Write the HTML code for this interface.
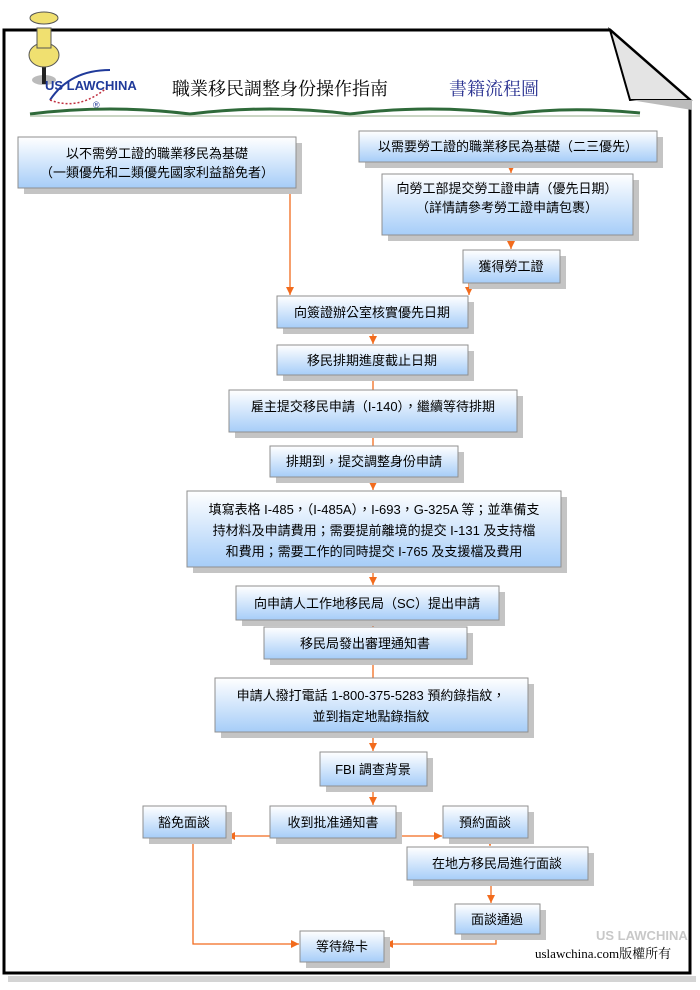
<!DOCTYPE html>
<html><head><meta charset="utf-8"><style>
html,body{margin:0;padding:0;background:#fff}
svg{display:block}
text{font-family:"Liberation Sans","Noto Sans CJK TC",sans-serif;font-size:13px;fill:#000}
</style></head><body>
<svg width="700" height="990" viewBox="0 0 700 990" xmlns="http://www.w3.org/2000/svg">
<defs>
<linearGradient id="g" x1="0" y1="0" x2="0" y2="1"><stop offset="0" stop-color="#ffffff"/><stop offset="1" stop-color="#a6cdf8"/></linearGradient>
<marker id="a" markerWidth="8" markerHeight="8" refX="8" refY="4" orient="auto" markerUnits="userSpaceOnUse" viewBox="0 0 8 8"><path d="M0,0 L8,4 L0,8 Z" fill="#f26b1d"/></marker>
</defs>
<!-- frame -->
<rect x="8" y="976" width="688" height="6" fill="#d4d4d4"/>
<path d="M4,30 L610,30 L690,100 L690,973 L4,973 Z" fill="#fff" stroke="#000" stroke-width="3"/>
<path d="M610,30 L630,100 L690,100 Z" fill="#e4e4e4" stroke="#000" stroke-width="2"/>
<path d="M630,100 L692,100 L692,110 Z" fill="#bbb"/>
<!-- pin -->
<ellipse cx="44" cy="80" rx="12" ry="5" fill="#bbb"/>
<rect x="42" y="62" width="4" height="22" fill="#222"/>
<ellipse cx="44" cy="55" rx="15" ry="12" fill="#f0e070" stroke="#555"/>
<rect x="37" y="28" width="14" height="20" fill="#f0e070" stroke="#555"/>
<ellipse cx="44" cy="18" rx="14" ry="6" fill="#f0e070" stroke="#555"/>
<!-- logo -->
<path d="M50,100 Q70,70 110,70" fill="none" stroke="#203a9a" stroke-width="2"/>
<path d="M50,100 Q80,112 110,85" fill="none" stroke="#c03040" stroke-width="1.5" stroke-dasharray="2,2"/>
<text x="45" y="90" style="font-size:13px;font-weight:bold;fill:#203a9a">US LAWCHINA</text>
<text x="93" y="108" style="font-size:9px;fill:#203a9a">®</text>
<!-- title -->
<text x="172" y="95" style="font-size:18px;font-family:'Noto Serif CJK SC','Liberation Serif',serif">職業移民調整身份操作指南</text>
<text x="449" y="95" style="font-size:18px;fill:#283090;font-family:'Noto Serif CJK SC','Liberation Serif',serif">書籍流程圖</text>
<path d="M30,114 Q110,104 190,114 Q270,104 350,114 Q430,104 510,114 Q570,106 640,113" fill="none" stroke="#2f6a3a" stroke-width="3"/>
<path d="M30,116 L640,116" stroke="#b8c8b0" stroke-width="1.5"/>

<!-- connectors -->
<g stroke="#f26b1d" stroke-width="1.3" fill="none">
<path d="M290,188 V295" marker-end="url(#a)"/>
<path d="M511,162 V173" marker-end="url(#a)"/>
<path d="M511,235 V249" marker-end="url(#a)"/>
<path d="M469,283 V295" marker-end="url(#a)"/>
<path d="M373,328 V344" marker-end="url(#a)"/>
<path d="M373,375 V390"/>
<path d="M373,432 V446"/>
<path d="M373,477 V490" marker-end="url(#a)"/>
<path d="M373,567 V585" marker-end="url(#a)"/>
<path d="M373,620 V627"/>
<path d="M373,659 V678"/>
<path d="M373,738 V751" marker-end="url(#a)"/>
<path d="M373,786 V805" marker-end="url(#a)"/>
<path d="M270,836 H227" marker-end="url(#a)"/>
<path d="M396,836 H442" marker-end="url(#a)"/>
<path d="M490,838 V846" marker-end="url(#a)"/>
<path d="M491,880 V903" marker-end="url(#a)"/>
<path d="M193,838 V944 H299" marker-end="url(#a)"/>
<path d="M496,934 V944 H385" marker-end="url(#a)"/>
</g>

<!-- boxes -->
<g stroke="#8f8f8f" stroke-width="1">
<g fill="#c4c4c4" stroke="none">
<rect x="24" y="143" width="278" height="51"/>
<rect x="365" y="137" width="298" height="31"/>
<rect x="388" y="180" width="251" height="61"/>
<rect x="469" y="256" width="97" height="33"/>
<rect x="283" y="302" width="191" height="32"/>
<rect x="283" y="351" width="191" height="30"/>
<rect x="235" y="396" width="288" height="42"/>
<rect x="276" y="452" width="188" height="31"/>
<rect x="193" y="497" width="374" height="76"/>
<rect x="242" y="592" width="263" height="34"/>
<rect x="270" y="633" width="203" height="32"/>
<rect x="221" y="684" width="313" height="54"/>
<rect x="326" y="758" width="107" height="34"/>
<rect x="149" y="812" width="83" height="32"/>
<rect x="276" y="812" width="126" height="32"/>
<rect x="449" y="812" width="85" height="32"/>
<rect x="413" y="853" width="181" height="33"/>
<rect x="461" y="910" width="85" height="30"/>
<rect x="306" y="937" width="84" height="31"/>
</g>
<g fill="url(#g)">
<rect x="18" y="137" width="278" height="51"/>
<rect x="359" y="131" width="298" height="31"/>
<rect x="382" y="174" width="251" height="61"/>
<rect x="463" y="250" width="97" height="33"/>
<rect x="277" y="296" width="191" height="32"/>
<rect x="277" y="345" width="191" height="30"/>
<rect x="229" y="390" width="288" height="42"/>
<rect x="270" y="446" width="188" height="31"/>
<rect x="187" y="491" width="374" height="76"/>
<rect x="236" y="586" width="263" height="34"/>
<rect x="264" y="627" width="203" height="32"/>
<rect x="215" y="678" width="313" height="54"/>
<rect x="320" y="752" width="107" height="34"/>
<rect x="143" y="806" width="83" height="32"/>
<rect x="270" y="806" width="126" height="32"/>
<rect x="443" y="806" width="85" height="32"/>
<rect x="407" y="847" width="181" height="33"/>
<rect x="455" y="904" width="85" height="30"/>
<rect x="300" y="931" width="84" height="31"/>
</g>
</g>

<!-- labels -->
<g text-anchor="middle">
<text x="157" y="158">以不需勞工證的職業移民為基礎</text>
<text x="157" y="177">（一類優先和二類優先國家利益豁免者）</text>
<text x="508" y="151">以需要勞工證的職業移民為基礎（二三優先）</text>
<text x="507" y="193">向勞工部提交勞工證申請（優先日期）</text>
<text x="507" y="212">（詳情請參考勞工證申請包裹）</text>
<text x="511" y="271">獲得勞工證</text>
<text x="372" y="317">向簽證辦公室核實優先日期</text>
<text x="372" y="365">移民排期進度截止日期</text>
<text x="373" y="411">雇主提交移民申請（I-140），繼續等待排期</text>
<text x="364" y="466">排期到，提交調整身份申請</text>
<text x="374" y="514">填寫表格 I-485，（I-485A），I-693，G-325A 等；並準備支</text>
<text x="374" y="535">持材料及申請費用；需要提前離境的提交 I-131 及支持檔</text>
<text x="374" y="556">和費用；需要工作的同時提交 I-765 及支援檔及費用</text>
<text x="367" y="608">向申請人工作地移民局（SC）提出申請</text>
<text x="365" y="648">移民局發出審理通知書</text>
<text x="371" y="700">申請人撥打電話 1-800-375-5283 預約錄指紋，</text>
<text x="371" y="721">並到指定地點錄指紋</text>
<text x="373" y="774">FBI 調查背景</text>
<text x="184" y="827">豁免面談</text>
<text x="333" y="827">收到批准通知書</text>
<text x="485" y="827">預約面談</text>
<text x="497" y="868">在地方移民局進行面談</text>
<text x="497" y="924">面談通過</text>
<text x="342" y="951">等待綠卡</text>
</g>
<text x="596" y="940" style="font-size:13px;fill:#c8c8c8;font-weight:bold">US LAWCHINA</text>
<text x="535" y="958" style="font-size:13px;font-family:'Liberation Serif','Noto Serif CJK SC',serif">uslawchina.com版權所有</text>
</svg>
</body></html>
